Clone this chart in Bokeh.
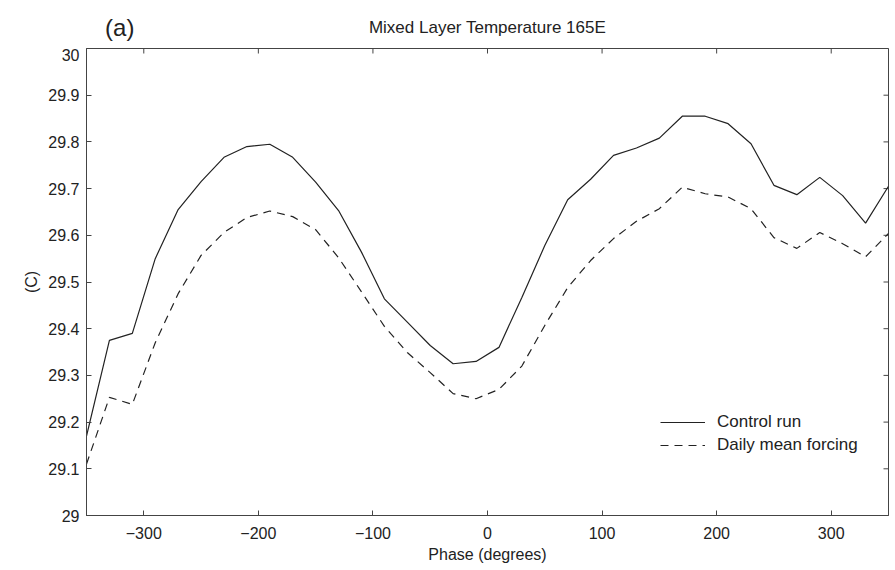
import math
from bokeh.plotting import figure
from bokeh.layouts import column
from bokeh.models import Range1d, LinearAxis, FixedTicker, CustomJSTickFormatter, Legend, LegendItem
from bokeh.core.properties import value
from bokeh.embed import file_html
from bokeh.resources import INLINE

phase = [-350, -330, -310, -290, -270, -250, -230, -210, -190, -170, -150, -130,
         -110, -90, -70, -50, -30, -10, 10, 30, 50, 70, 90, 110,
         130, 150, 170, 190, 210, 230, 250, 270, 290, 310, 330, 350]
control_run = [29.17, 29.375, 29.39, 29.55, 29.655, 29.715, 29.767, 29.79, 29.795, 29.767, 29.714, 29.653,
               29.564, 29.464, 29.414, 29.364, 29.325, 29.33, 29.36, 29.467, 29.578, 29.676, 29.72, 29.771,
               29.787, 29.808, 29.855, 29.855, 29.839, 29.796, 29.707, 29.687, 29.724, 29.685, 29.626, 29.705]
daily_mean = [29.11, 29.253, 29.238, 29.37, 29.475, 29.557, 29.606, 29.638, 29.652, 29.64, 29.612, 29.552,
              29.479, 29.405, 29.349, 29.306, 29.261, 29.25, 29.27, 29.32, 29.407, 29.488, 29.546, 29.593,
              29.63, 29.657, 29.703, 29.689, 29.682, 29.657, 29.595, 29.572, 29.606, 29.582, 29.554, 29.604]
x_ticks = [-300, -200, -100, 0, 100, 200, 300]
y_ticks = [29.0, 29.1, 29.2, 29.3, 29.4, 29.5, 29.6, 29.7, 29.8, 29.9, 30.0]
series_names = ["Control run", "Daily mean forcing"]
title_text = "Mixed Layer Temperature 165E"
panel_tag = "(a)"
x_label = "Phase (degrees)"
y_label = "(C)"

FONT = "Liberation Sans"
INK = "#222222"
EDGE = "#444444"
X0, X1 = -350, 350
Y0, Y1 = 29, 30

# ---- header strip holding the panel tag and the title ----
head = figure(width=895, height=48, output_backend="svg", toolbar_location=None,
              x_range=Range1d(X0, X1), y_range=Range1d(0, 1),
              x_axis_type=None, y_axis_type=None, title=None,
              min_border_left=86, min_border_right=7, min_border_top=0, min_border_bottom=0)
head.outline_line_color = None
head.xgrid.visible = False
head.ygrid.visible = False
head.background_fill_color = "white"
head.border_fill_color = "white"
head.text(x=[(X0 + X1) / 2], y=[0.44], text=[title_text], text_align="center", text_baseline="middle",
          text_font=value(FONT), text_font_size="17px", text_color=INK)
head.text(x=[X0 + 29], y=[0.44], text=[panel_tag], text_align="center", text_baseline="middle",
          text_font=value(FONT), text_font_size="24px", text_color=INK)

# ---- main plot ----
p = figure(width=895, height=522, output_backend="svg", toolbar_location=None,
           x_range=Range1d(X0, X1), y_range=Range1d(Y0, Y1),
           x_axis_type=None, y_axis_type=None, title=None,
           min_border_left=86, min_border_right=7, min_border_top=0, min_border_bottom=55)
p.background_fill_color = "white"
p.border_fill_color = "white"
p.outline_line_color = EDGE
p.outline_line_width = 1
p.xgrid.visible = False
p.ygrid.visible = False

fmt = CustomJSTickFormatter(code="""
const v = Math.round(tick*10)/10;
if (v < 0) { return '\\u2212' + String(Math.abs(v)); }
return String(v);
""")

def style_axis(ax):
    ax.major_tick_in = 5
    ax.major_tick_out = 0
    ax.minor_tick_line_color = None
    ax.axis_line_color = EDGE
    ax.major_tick_line_color = EDGE
    ax.major_label_text_font = FONT
    ax.major_label_text_color = INK
    ax.major_label_text_font_size = "16px"
    ax.axis_label_text_font = FONT
    ax.axis_label_text_font_style = "normal"
    ax.axis_label_text_color = INK
    ax.axis_label_text_font_size = "16px"

xb = LinearAxis(ticker=FixedTicker(ticks=x_ticks), formatter=fmt, axis_label=x_label)
style_axis(xb)
xb.major_label_standoff = 11
xb.axis_label_standoff = 4
p.add_layout(xb, "below")

yl = LinearAxis(ticker=FixedTicker(ticks=y_ticks), formatter=fmt, axis_label=y_label)
style_axis(yl)
yl.major_label_standoff = 7
yl.axis_label_standoff = 5
p.add_layout(yl, "left")

# inward ticks on the top and right edges (half of each dash is clipped by the frame)
p.scatter(x=x_ticks, y=[Y1] * len(x_ticks), marker="dash", size=10, angle=math.pi / 2,
          line_color=EDGE, line_width=1)
p.scatter(x=[X1] * len(y_ticks), y=y_ticks, marker="dash", size=10,
          line_color=EDGE, line_width=1)

r1 = p.line(phase, control_run, line_color=INK, line_width=1.2)
r2 = p.line(phase, daily_mean, line_color=INK, line_width=1.2, line_dash="8 6")

legend = Legend(items=[LegendItem(label=series_names[0], renderers=[r1]),
                       LegendItem(label=series_names[1], renderers=[r2])],
                location=(574, 60), padding=0, margin=0, spacing=3,
                glyph_width=45, glyph_height=20, label_height=20, label_standoff=12,
                label_text_font=FONT, label_text_font_size="17px", label_text_color=INK,
                border_line_color=None, background_fill_alpha=0)
p.add_layout(legend, "center")

layout = column(head, p, spacing=0)
open("out.html", "w").write(file_html(layout, INLINE))
